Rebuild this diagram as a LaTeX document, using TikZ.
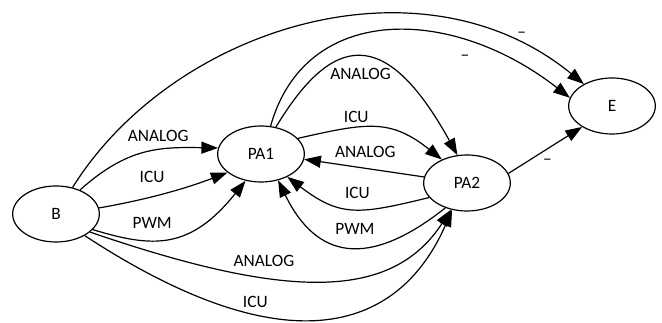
\documentclass[tikz,border=0pt]{standalone}
\usepackage{fontspec}
\setmainfont{Carlito}
\usetikzlibrary{shapes,arrows.meta,positioning}

\begin{document}
\begin{tikzpicture}[x=0.75pt,y=-0.75pt,
    every node/.style={font=\fontsize{13}{15}\selectfont},
    vertex/.style={draw, ellipse, line width=0.9pt, minimum width=65pt, minimum height=42pt, inner sep=0pt},
    edge/.style={line width=0.9pt, -{Triangle[length=12.5pt,width=9pt]}},
    lbl/.style={inner sep=0pt}]
    \useasboundingbox (0,0) rectangle (662,323);

    % states
    \node[vertex] (B) at (56,214) {B};
    \node[vertex] (PA1) at (261,154) {PA1};
    \node[vertex] (PA2) at (467,183) {PA2};
    \node[vertex] (E) at (612,106) {E};

    % edges to E
    \draw[edge] (B.58) .. controls (172,28) and (420,-50) .. node[lbl, pos=.88, yshift=7.5pt] (lBE) {–} (E.142);
    \draw[edge] (PA1.71) .. controls (305,3) and (451,5) .. node[lbl, pos=.715, yshift=-12.5pt] (lPA1E) {–} (E.169);
    \draw[edge] (PA2.13) -- node[lbl, pos=.53, yshift=-9.75pt] (lPA2E) {–} (E.215);

    % PA1 <-> PA2
    \draw[edge] (PA1.61) .. controls (332,34) and (385,24) .. node[lbl, midway, below=8.2pt] (lA12a) {ANALOG} (PA2.109);
    \draw[edge] (PA1.23) .. controls (366,123) and (390,118) .. node[lbl, pos=.35, above=3.5pt] (lA12i) {ICU} (PA2.137);
    \draw[edge] (PA2.172) -- node[lbl, pos=.49, above=7.8pt] (lA21a) {ANALOG} (PA1.-7);
    \draw[edge] (PA2.201) .. controls (358,215) and (340,217) .. node[lbl, pos=.45, above=7.8pt] (lA21i) {ICU} (PA1.319);
    \draw[edge] (PA2.229) .. controls (367,270) and (316,258) .. node[lbl, pos=.45, above=9.3pt] (lA21p) {PWM} (PA1.303);

    % B -> PA1
    \draw[edge] (B.45) .. controls (128,147) and (160,147) .. node[lbl, pos=.6, above=5.5pt] (lB1a) {ANALOG} (PA1.172);
    \draw[edge] (B.8) .. controls (150,199) and (187,188) .. node[lbl, pos=.38, above=9.9pt] (lB1i) {ICU} (PA1.209);
    \draw[edge] (B.337) .. controls (153,248) and (190,250) .. node[lbl, pos=.37, above=8.9pt] (lB1p) {PWM} (PA1.240);

    % B -> PA2
    \draw[edge] (B.332) .. controls (285,299) and (391,302) .. node[lbl, pos=.35, above=7.8pt] (lB2a) {ANALOG} (PA2.239);
    \draw[edge] (B.323) .. controls (293,372) and (401,327) .. node[lbl, pos=.32, above=4.8pt] (lB2i) {ICU} (PA2.241);
\end{tikzpicture}
\end{document}
